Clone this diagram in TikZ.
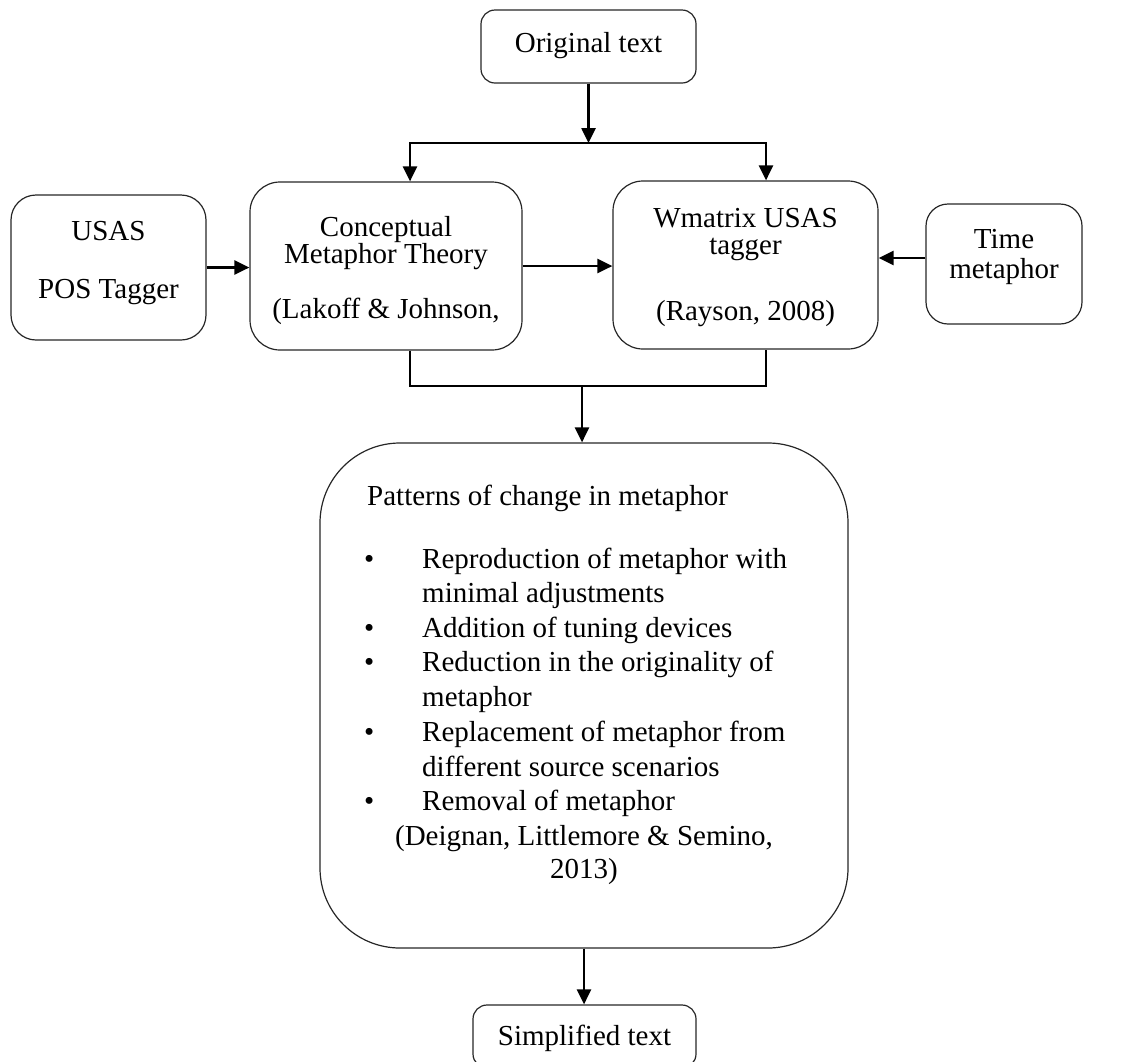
\documentclass[tikz,border=0pt]{standalone}
\usepackage{fontspec}
\setmainfont{Liberation Serif}
\usetikzlibrary{arrows.meta}
\begin{document}
\begin{tikzpicture}[x=1pt,y=-1pt,
  box/.style={draw=black!85, line width=1.2pt, rounded corners=#1, inner sep=0pt},
  box/.default=22pt,
  txt/.style={anchor=base, inner sep=0pt, font=\fontsize{29}{34}\selectfont},
  ltxt/.style={anchor=base west, inner sep=0pt, font=\fontsize{29}{34}\selectfont},
  conn/.style={line width=2.6pt, draw=black},
  arr/.style={conn, -{Triangle[length=15pt,width=14pt]}},
]
\clip (0,0) rectangle (1132,1061);
\useasboundingbox (0,0) rectangle (1132,1061);

% boxes
\node[box=14pt, minimum width=215pt, minimum height=73pt] (orig) at (588.5,46.5) {};
\node[box=30pt, minimum width=272pt, minimum height=168pt] (cmt) at (386,266) {};
\node[box=30pt, minimum width=265pt, minimum height=168pt] (wmx) at (745.5,265) {};
\node[box=25pt, minimum width=195pt, minimum height=145pt] (usas) at (108.5,267.5) {};
\node[box=22pt, minimum width=156pt, minimum height=120pt] (time) at (1004,264) {};
\node[box=80pt, minimum width=528pt, minimum height=505pt] (big) at (584,695.5) {};
\node[box=14pt, minimum width=223pt, minimum height=63pt] (simp) at (584.5,1036.5) {};

% texts
\node[txt] (t-orig) at (588.5,52) {Original text};
\node[txt] (t-cmt1) at (386,236) {Conceptual};
\node[txt] (t-cmt2) at (386,263) {Metaphor Theory};
\node[txt] (t-cmt3) at (386,318) {(Lakoff \& Johnson,};
\node[txt] (t-wmx1) at (745.5,227) {Wmatrix USAS};
\node[txt] (t-wmx2) at (745.5,254) {tagger};
\node[txt] (t-wmx3) at (745.5,320) {(Rayson, 2008)};
\node[txt] (t-usas1) at (108.5,240) {USAS};
\node[txt] (t-usas2) at (108.5,298) {POS Tagger};
\node[txt] (t-time1) at (1004,248) {Time};
\node[txt] (t-time2) at (1004,278) {metaphor};
\node[txt] (t-simp) at (584.5,1045) {Simplified text};

\node[ltxt] (p0) at (367,505) {Patterns of change in metaphor};
\node[ltxt] (b1) at (364,568) {\textbullet};
\node[ltxt] (p1) at (422,568) {Reproduction of metaphor with};
\node[ltxt] (p1b) at (422,602) {minimal adjustments};
\node[ltxt] (b2) at (364,637) {\textbullet};
\node[ltxt] (p2) at (422,637) {Addition of tuning devices};
\node[ltxt] (b3) at (364,671) {\textbullet};
\node[ltxt] (p3) at (422,671) {Reduction in the originality of};
\node[ltxt] (p3b) at (422,706) {metaphor};
\node[ltxt] (b4) at (364,741) {\textbullet};
\node[ltxt] (p4) at (422,741) {Replacement of metaphor from};
\node[ltxt] (p4b) at (422,776) {different source scenarios};
\node[ltxt] (b5) at (364,810) {\textbullet};
\node[ltxt] (p5) at (422,810) {Removal of metaphor};
\node[txt] (p6) at (584,845) {(Deignan, Littlemore \& Semino,};
\node[txt] (p7) at (584,878) {2013)};

% connectors
\coordinate (sM) at (588.5,143);
\coordinate (sL) at (410,143);
\coordinate (sR) at (766,143);
\coordinate (jM) at (582,386);
\draw[arr] (orig.south) -- (sM);
\draw[arr] (sM) -- (sL) -- (sL |- cmt.north);
\draw[arr] (sM) -- (sR) -- (sR |- wmx.north);
\draw[arr] (usas.east) -- (usas.east -| cmt.west);
\draw[arr] (cmt.east) -- (cmt.east -| wmx.west);
\draw[arr] ([yshift=6pt]time.west) -- ([yshift=6pt]time.west -| wmx.east);
\draw[conn] (sL |- cmt.south) -- (sL |- jM) -- (sR |- jM) -- (sR |- wmx.south);
\draw[arr] (jM) -- (jM |- big.north);
\draw[arr] (big.south) -- (big.south |- simp.north);
\end{tikzpicture}
\end{document}
